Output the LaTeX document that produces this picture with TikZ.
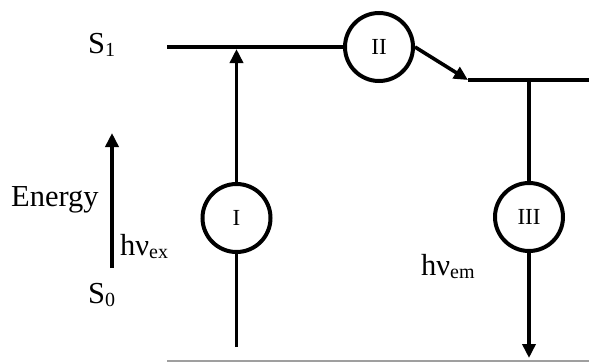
\documentclass[tikz,border=0pt]{standalone}
\usepackage{fontspec}
\setmainfont{Liberation Serif}
\usetikzlibrary{arrows.meta}
\newcommand\sbs[1]{\raisebox{-3pt}{\fontsize{20}{20}\selectfont #1}}
\tikzset{
  lvl/.style={line width=3.6pt},
  proc/.style={circle, draw, line width=4pt, minimum size=68pt, inner sep=0pt, fill=white, font=\fontsize{23}{23}\selectfont},
  arr/.style={line width=3.6pt, -{Triangle[length=14pt,width=13pt]}},
  lbl/.style={anchor=base west, inner sep=0pt, font=\fontsize{30.5}{30.5}\selectfont},
}
\begin{document}
\begin{tikzpicture}[x=1pt,y=-1pt]
\useasboundingbox (0,0) rectangle (589,362);
% nodes
\node[proc] (c1) at (236.5,218) {I};
\node[proc] (c2) at (379,47) {II};
\node[proc] (c3) at (529,217) {III};
% coordinates
\coordinate (s1l) at (167,47);
\coordinate (s1t) at (236.5,49);
\coordinate (s2l) at (468,80);
\coordinate (s2r) at (589,80);
\coordinate (s2m) at (529,80);
\coordinate (ib) at (236.5,347);
\coordinate (iiib) at (529,358);
\coordinate (bl) at (167,361);
\coordinate (br) at (589,361);
\coordinate (eb) at (112,268);
\coordinate (et) at (112,133);
% levels
\draw[lvl] (s1l) -- (c2.west);
\draw[lvl] (s2l) -- (s2r);
\draw[line width=2.5pt, gray!75] (bl) -- (br);
% transitions
\draw[lvl] (ib) -- (c1.south);
\draw[arr] (c1.north) -- (s1t);
\draw[arr] (c2.east) -- (s2l);
\draw[lvl] (s2m) -- (c3.north);
\draw[arr] (c3.south) -- (iiib);
\draw[arr] (eb) -- (et);
% labels
\node[lbl] (ls1) at (88,53) {S\sbs{1}};
\node[lbl] (len) at (11,206) {Energy};
\node[lbl] (lex) at (120,255) {hν\sbs{ex}};
\node[lbl] (ls0) at (88,303) {S\sbs{0}};
\node[lbl] (lem) at (421,275) {hν\sbs{em}};
\end{tikzpicture}
\end{document}
